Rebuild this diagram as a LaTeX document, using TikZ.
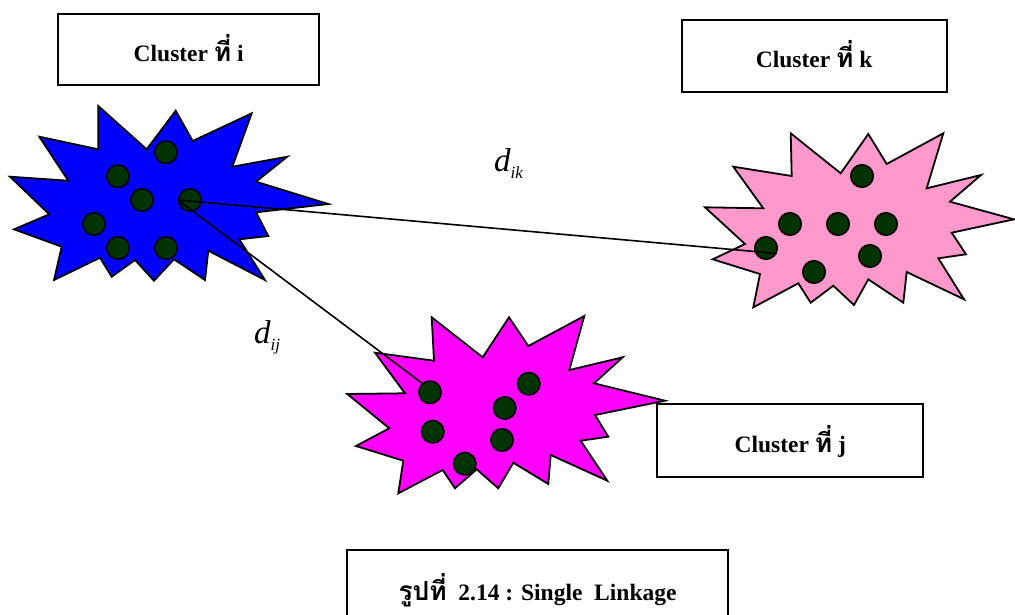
\documentclass[tikz,border=0pt]{standalone}
\usepackage{fontspec}
\setmainfont{Liberation Serif}
\newfontfamily\thaifont[Script=Thai,Scale=1.12]{Loma}
\begin{document}
\begin{tikzpicture}[x=1pt,y=-1pt,
  starshape/.style={draw=black,line width=1.8pt,line join=miter},
  dot/.style={circle,draw=black,line width=1.6pt,fill=dotgreen,minimum size=22.5pt,inner sep=0pt},
  labelbox/.style={draw=black,line width=1.8pt,fill=white,inner sep=0pt,
     font=\fontsize{23.5}{27}\selectfont\bfseries,text height=23pt,text depth=0pt},
  link/.style={draw=black,line width=1.6pt},
  dist/.style={anchor=base west,inner sep=0pt,font=\fontsize{33}{35}\selectfont\itshape}]
\definecolor{dotgreen}{RGB}{0,51,0}
\definecolor{pinkc}{RGB}{255,153,204}
\definecolor{bluec}{RGB}{0,0,255}
\definecolor{magc}{RGB}{255,0,255}
\useasboundingbox (0,0) rectangle (1015,614);
\clip (0,0) rectangle (1015,614);

% stars
\draw[starshape,fill=bluec] (98.3,106) -- (146.7,149.3) -- (175.7,110.7) -- (192.7,141) -- (251.7,113.3) -- (232.3,166.7) -- (287.3,156.7) -- (256,181.7) -- (328.3,204) -- (256,212.3) -- (268.3,236) -- (239.3,239.3) -- (265,280) -- (208.3,250.7) -- (205,280) -- (174,259.3) -- (154,280.7) -- (135,260) -- (111.7,276.7) -- (100,257.7) -- (54,280) -- (61.7,246.7) -- (14,229.3) -- (49.3,214.3) -- (10,176.7) -- (68.3,180.7) -- (39.3,136.7) -- (98.3,149.3) -- cycle;

\draw[starshape,fill=pinkc] (790.7,133.3) -- (840.7,173.3) -- (868.3,134) -- (886.7,164) -- (943.3,133.3) -- (926.7,188.3) -- (981,175) -- (950,201.7) -- (1014,219.3) -- (951.7,232.7) -- (966,254.3) -- (938.3,258.3) -- (964,299.3) -- (906.7,272) -- (903.3,302.7) -- (868.3,279.3) -- (854,305) -- (833.3,285.7) -- (810.7,302.7) -- (798.3,283.3) -- (753.3,307.3) -- (760,274) -- (712.7,259.3) -- (745,244) -- (705,207.3) -- (763.3,208.3) -- (733.3,166.7) -- (791.7,176) -- cycle;

\draw[starshape,fill=magc] (431.7,317.3) -- (482.7,357.3) -- (509,317.3) -- (528.3,346) -- (584.3,316) -- (569.3,370) -- (622.7,357.3) -- (594,383.3) -- (665,400.7) -- (595,415) -- (608.3,436.7) -- (580.7,440.7) -- (607.3,480.7) -- (550.7,455) -- (548.3,484) -- (513.3,462.7) -- (498.3,488.3) -- (476.7,469.3) -- (455,488.3) -- (442.7,470) -- (398.3,493.3) -- (403.3,460.7) -- (356,446) -- (389.3,428.3) -- (347.3,394) -- (405,393.3) -- (375,352.7) -- (434,360.7) -- cycle;

% dots of cluster i
\node[dot] (bi1) at (166,152.3) {};
\node[dot] (bi2) at (118,176.3) {};
\node[dot] (bi3) at (142,200) {};
\node[dot] (bi4) at (190,200) {};
\node[dot] (bi5) at (94,224) {};
\node[dot] (bi6) at (118,248) {};
\node[dot] (bi7) at (166,248) {};
% dots of cluster k
\node[dot] (pk1) at (862,176) {};
\node[dot] (pk2) at (790,224) {};
\node[dot] (pk3) at (838,224) {};
\node[dot] (pk4) at (886,224) {};
\node[dot] (pk5) at (766,248) {};
\node[dot] (pk6) at (870,256) {};
\node[dot] (pk7) at (814,272) {};
% dots of cluster j
\node[dot] (mj1) at (430,392.3) {};
\node[dot] (mj2) at (528.7,383.7) {};
\node[dot] (mj3) at (504.7,408) {};
\node[dot] (mj4) at (432.7,431.7) {};
\node[dot] (mj5) at (502,440) {};
\node[dot] (mj6) at (464.7,463.7) {};

% links
\draw[link] (bi4.west) -- (pk5.-27);
\draw[link] (bi4.west) -- (mj1.131);

% distance labels
\node[dist] (dik) at (494,171) {d\raisebox{-7pt}{\fontsize{17}{18}\selectfont ik}};
\node[dist] (dij) at (254,343) {d\raisebox{-7pt}{\fontsize{17}{18}\selectfont ij}};

% boxes
\node[labelbox,minimum width=261.3pt,minimum height=71pt] (ci) at (188.7,49.5) {Cluster {\thaifont ที่} i};
\node[labelbox,minimum width=265pt,minimum height=72.3pt] (ck) at (814.2,56.2) {Cluster {\thaifont ที่} k};
\node[labelbox,minimum width=266pt,minimum height=72.4pt] (cj) at (790.3,440.5) {Cluster {\thaifont ที่} j};
\node[labelbox,minimum width=381.6pt,minimum height=77pt] (cap) at (537.5,588.5) {{\thaifont รูปที่}\ \ 2.14 : Single\ \ Linkage};
\end{tikzpicture}
\end{document}
